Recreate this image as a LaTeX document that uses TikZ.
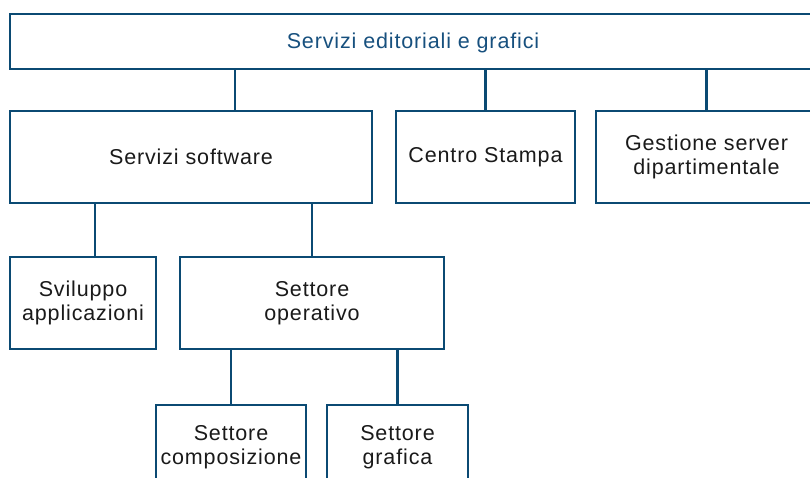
\documentclass[tikz,border=0pt]{standalone}
\usepackage{fontspec}
\setmainfont{Liberation Sans}[LetterSpace=4]
\definecolor{ln}{HTML}{0B4A73}
\definecolor{tt}{HTML}{17507E}
\definecolor{tx}{HTML}{1A1A1A}
\begin{document}
\begin{tikzpicture}[x=1pt,y=-1pt,
  box/.style={draw=ln, line width=2.2pt, rectangle, inner sep=0pt, align=center,
    font=\fontsize{21.5}{24}\selectfont, text=tx},
  conn/.style={draw=ln, line width=2.2pt}]
\clip (0,0) rectangle (810,477);
\node[box, minimum width=806pt, minimum height=55pt, text=tt, text depth=1pt] (top) at (413,41.5) {Servizi editoriali e grafici};
\node[box, minimum width=362pt, minimum height=92pt] (ss) at (191,157) {Servizi software};
\node[box, minimum width=179pt, minimum height=92pt] (cs) at (485.5,157) {Centro Stampa};
\node[box, minimum width=221pt, minimum height=92pt] (gs) at (706.5,157) {Gestione server\\dipartimentale};
\node[box, minimum width=146pt, minimum height=92pt] (sv) at (83,303) {Sviluppo\\applicazioni};
\node[box, minimum width=264pt, minimum height=92pt] (so) at (312,303) {Settore\\operativo};
\node[box, minimum width=150pt, minimum height=84pt] (sc) at (231,447) {Settore\\composizione};
\node[box, minimum width=141pt, minimum height=84pt] (sg) at (397.5,447) {Settore\\grafica};
\draw[conn] ([xshift=44pt]ss.north) -- ([xshift=44pt]ss.north |- top.south);
\draw[conn] (cs.north) -- (cs.north |- top.south);
\draw[conn] (gs.north) -- (gs.north |- top.south);
\draw[conn] ([xshift=12pt]sv.north) -- ([xshift=12pt]sv.north |- ss.south);
\draw[conn] (so.north) -- (so.north |- ss.south);
\draw[conn] (sc.north) -- (sc.north |- so.south);
\draw[conn] (sg.north) -- (sg.north |- so.south);
\end{tikzpicture}
\end{document}
